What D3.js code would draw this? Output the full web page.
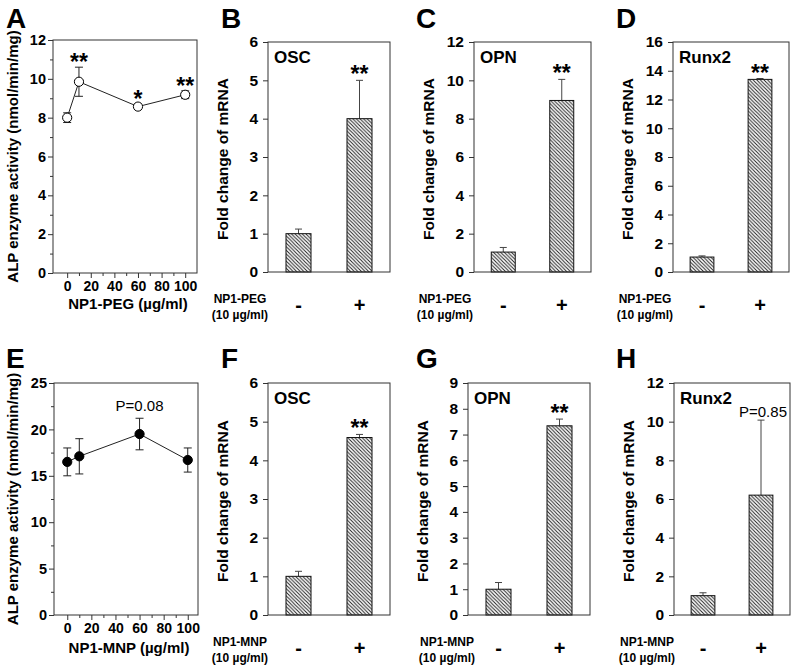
<!DOCTYPE html>
<html><head><meta charset="utf-8">
<script src="https://cdn.jsdelivr.net/npm/d3@7"></script>
<style>body{margin:0;background:#fff} text{font-family:"Liberation Sans",Arial,sans-serif}</style>
</head><body><svg id="c" width="800" height="669"></svg>
<script>
// ---------- data ----------
const doses = [0, 10, 60, 100];
const alpPEG = [8.0, 9.85, 8.57, 9.18];
const alpPEGErr = [0.25, 0.75, 0.15, 0.2];
const alpPEGSig = ["", "**", "*", "**"];
const alpMNP = [16.5, 17.1, 19.5, 16.7];
const alpMNPErr = [1.5, 1.9, 1.7, 1.3];
const alpMNPSig = ["", "", "P=0.08", ""];
const doseTicks = [0, 20, 40, 60, 80, 100];
const alpPEGTicks = [0, 2, 4, 6, 8, 10, 12];
const alpMNPTicks = [0, 5, 10, 15, 20, 25];

const treatments = ["-", "+"];
const oscPEG = [1.0, 4.0], oscPEGErr = [0.12, 1.0], oscPEGSig = ["", "**"];
const opnPEG = [1.04, 8.95], opnPEGErr = [0.24, 1.1], opnPEGSig = ["", "**"];
const runxPEG = [1.04, 13.4], runxPEGErr = [0.08, 0.06], runxPEGSig = ["", "**"];
const oscMNP = [1.0, 4.59], oscMNPErr = [0.13, 0.08], oscMNPSig = ["", "**"];
const opnMNP = [1.0, 7.34], opnMNPErr = [0.26, 0.26], opnMNPSig = ["", "**"];
const runxMNP = [1.0, 6.2], runxMNPErr = [0.15, 3.88], runxMNPSig = ["", "P=0.85"];
const ticks6 = [0,1,2,3,4,5,6], ticks12 = [0,2,4,6,8,10,12], ticks16 = [0,2,4,6,8,10,12,14,16], ticks9 = [0,1,2,3,4,5,6,7,8,9];

// ---------- drawing ----------
const svg = d3.select("#c");
const defs = svg.append("defs");
defs.append("pattern").attr("id","hatch").attr("patternUnits","userSpaceOnUse")
  .attr("width",3.6).attr("height",3.6)
  .append("path").attr("d","M-1,-1L4.6,4.6M-1,2.6L1,4.6M2.6,-1L4.6,1")
  .attr("stroke","#222").attr("stroke-width",1);

function letter(t, x, y){
  svg.append("text").attr("x",x).attr("y",y).attr("font-size",28).attr("font-weight","bold").text(t);
}

function lineChart(o){
  const g = svg.append("g");
  const x = d3.scaleLinear().domain(o.xDom).range([o.l, o.r]);
  const y = d3.scaleLinear().domain([0, o.yMax]).range([o.b, o.t]);
  g.append("rect").attr("x",o.l).attr("y",o.t).attr("width",o.r-o.l).attr("height",o.b-o.t)
    .attr("fill","none").attr("stroke","#333").attr("stroke-width",1);
  const ya = g.append("g").attr("transform",`translate(${o.l},0)`)
    .call(d3.axisLeft(y).tickValues(o.yTicks).tickSize(5).tickPadding(2).tickFormat(d3.format("d")));
  ya.select(".domain").remove();
  ya.selectAll("text").attr("font-size",14.5).attr("font-weight","bold").attr("font-family","Liberation Sans");
  const ym = g.append("g").attr("transform",`translate(${o.l},0)`)
    .call(d3.axisLeft(y).tickValues(o.yMinor).tickSize(3).tickFormat(""));
  ym.select(".domain").remove();
  const xa = g.append("g").attr("transform",`translate(0,${o.b})`)
    .call(d3.axisBottom(x).tickValues(doseTicks).tickSize(5).tickPadding(3));
  xa.select(".domain").remove();
  xa.selectAll("text").attr("font-size",14).attr("font-weight","bold").attr("font-family","Liberation Sans");
  const xm = g.append("g").attr("transform",`translate(0,${o.b})`)
    .call(d3.axisBottom(x).tickValues([10,30,50,70,90]).tickSize(3).tickFormat(""));
  xm.select(".domain").remove();
  g.selectAll(".tick line").attr("stroke","#333");
  g.append("text").attr("transform",`translate(${o.yTitleX},${(o.t+o.b)/2}) rotate(-90)`)
    .attr("text-anchor","middle").attr("font-size",15).attr("font-weight","bold").text(o.yTitle);
  g.append("text").attr("x",(o.l+o.r)/2+3).attr("y",o.b+o.xTitleDy).attr("text-anchor","middle")
    .attr("font-size",15).attr("font-weight","bold").text(o.xTitle);
  g.append("path").datum(doses.map((d,i)=>[d,o.vals[i]]))
    .attr("d", d3.line().x(d=>x(d[0])).y(d=>y(d[1])))
    .attr("fill","none").attr("stroke","#222").attr("stroke-width",1);
  doses.forEach((d,i)=>{
    const cx = x(d), y1 = y(o.vals[i]-o.err[i]), y2 = y(o.vals[i]+o.err[i]);
    g.append("line").attr("x1",cx).attr("x2",cx).attr("y1",y1).attr("y2",y2).attr("stroke","#222");
    [y1,y2].forEach(yy=>g.append("line").attr("x1",cx-4).attr("x2",cx+4).attr("y1",yy).attr("y2",yy).attr("stroke","#222"));
  });
  g.selectAll("circle.pt").data(doses).enter().append("circle")
    .attr("cx",d=>x(d)).attr("cy",(d,i)=>y(o.vals[i])).attr("r",4.6)
    .attr("fill",o.filled?"#000":"#fff").attr("stroke","#000").attr("stroke-width",1);
  doses.forEach((d,i)=>{
    const s = o.sig[i]; if(!s) return;
    const top = y(o.vals[i]+o.err[i]);
    if (s.startsWith("P")) {
      g.append("text").attr("x",x(d)).attr("y",top-7).attr("text-anchor","middle").attr("font-size",15).text(s);
    } else {
      g.append("text").attr("x",x(d)).attr("y",top+3).attr("text-anchor","middle").attr("font-size",23).attr("font-weight","bold").text(s);
    }
  });
}

function barChart(o){
  const g = svg.append("g");
  const x = d3.scalePoint().domain(treatments).range([o.l, o.r]).padding(0.5);
  const y = d3.scaleLinear().domain([0, o.yMax]).range([o.b, o.t]);
  const bw = (o.r-o.l)*0.205;
  const ya = g.append("g").attr("transform",`translate(${o.l},0)`)
    .call(d3.axisLeft(y).tickValues(o.yTicks).tickSize(5).tickPadding(5).tickFormat(d3.format("d")));
  ya.select(".domain").remove();
  ya.selectAll("text").attr("font-size",15.5).attr("font-weight","bold").attr("font-family","Liberation Sans");
  ya.selectAll(".tick line").attr("stroke","#333");
  treatments.forEach((t,i)=>{
    const cx = x(t), top = y(o.vals[i]+o.err[i]);
    g.append("line").attr("x1",cx).attr("x2",cx).attr("y1",y(o.vals[i])).attr("y2",top).attr("stroke","#444");
    g.append("line").attr("x1",cx-3.5).attr("x2",cx+3.5).attr("y1",top).attr("y2",top).attr("stroke","#444");
  });
  g.selectAll("rect.bar").data(treatments).enter().append("rect")
    .attr("x",t=>x(t)-bw/2).attr("width",bw)
    .attr("y",(t,i)=>y(o.vals[i])).attr("height",(t,i)=>o.b-y(o.vals[i]))
    .attr("fill","url(#hatch)").attr("stroke","#111").attr("stroke-width",1);
  g.append("rect").attr("x",o.l).attr("y",o.t).attr("width",o.r-o.l).attr("height",o.b-o.t)
    .attr("fill","none").attr("stroke","#333").attr("stroke-width",1);
  g.append("text").attr("x",o.l+6).attr("y",o.t+21).attr("font-size",17).attr("font-weight","bold").text(o.gene);
  treatments.forEach((t,i)=>{
    const s = o.sig[i]; if(!s) return;
    const top = y(o.vals[i]+o.err[i]);
    if (s.startsWith("P")) {
      g.append("text").attr("x",x(t)+2).attr("y",top-3).attr("text-anchor","middle").attr("font-size",15).text(s);
    } else {
      g.append("text").attr("x",x(t)).attr("y",top+2).attr("text-anchor","middle").attr("font-size",23).attr("font-weight","bold").text(s);
    }
  });
  g.append("text").attr("transform",`translate(${o.l-40},${(o.t+o.b)/2+2}) rotate(-90)`)
    .attr("text-anchor","middle").attr("font-size",15.5).attr("font-weight","bold").text("Fold change of mRNA");
  treatments.forEach(t=>{
    g.append("text").attr("x",x(t)).attr("y",o.b+40).attr("text-anchor","middle")
      .attr("font-size",20).attr("font-weight","bold").text(t);
  });
  g.append("text").attr("x",o.labX).attr("y",o.b+31).attr("text-anchor","middle").attr("font-size",12).attr("font-weight","bold").text(o.agent);
  g.append("text").attr("x",o.labX).attr("y",o.b+47).attr("text-anchor","middle").attr("font-size",12).attr("font-weight","bold").text("(10 µg/ml)");
}

// ---------- panels ----------
letter("A",6,28); letter("B",221,28); letter("C",416,28); letter("D",616,28);
letter("E",6,368); letter("F",221,368); letter("G",416,368); letter("H",616,368);

lineChart({l:53,r:197,t:40,b:273,xDom:[-12,110],yMax:12,yTicks:alpPEGTicks,yMinor:[1,3,5,7,9,11],
  vals:alpPEG,err:alpPEGErr,sig:alpPEGSig,filled:false,yTitle:"ALP enzyme activity (nmol/min/mg)",yTitleX:18,
  xTitle:"NP1-PEG (µg/ml)",xTitleDy:36});
lineChart({l:54,r:198,t:383,b:615,xDom:[-11,108.5],yMax:25,yTicks:alpMNPTicks,yMinor:[2.5,7.5,12.5,17.5,22.5],
  vals:alpMNP,err:alpMNPErr,sig:alpMNPSig,filled:true,yTitle:"ALP enzyme activity (nmol/min/mg)",yTitleX:18,
  xTitle:"NP1-MNP (µg/ml)",xTitleDy:38});

barChart({l:268,r:390,t:42,b:272,yMax:6,yTicks:ticks6,vals:oscPEG,err:oscPEGErr,sig:oscPEGSig,gene:"OSC",agent:"NP1-PEG",labX:240});
barChart({l:474,r:591,t:42,b:272,yMax:12,yTicks:ticks12,vals:opnPEG,err:opnPEGErr,sig:opnPEGSig,gene:"OPN",agent:"NP1-PEG",labX:445});
barChart({l:673,r:789,t:42,b:272,yMax:16,yTicks:ticks16,vals:runxPEG,err:runxPEGErr,sig:runxPEGSig,gene:"Runx2",agent:"NP1-PEG",labX:645});
barChart({l:268,r:390,t:383,b:615,yMax:6,yTicks:ticks6,vals:oscMNP,err:oscMNPErr,sig:oscMNPSig,gene:"OSC",agent:"NP1-MNP",labX:240});
barChart({l:468,r:590,t:383,b:615,yMax:9,yTicks:ticks9,vals:opnMNP,err:opnMNPErr,sig:opnMNPSig,gene:"OPN",agent:"NP1-MNP",labX:447});
barChart({l:674,r:790,t:383,b:615,yMax:12,yTicks:ticks12,vals:runxMNP,err:runxMNPErr,sig:runxMNPSig,gene:"Runx2",agent:"NP1-MNP",labX:647});
</script></body></html>
